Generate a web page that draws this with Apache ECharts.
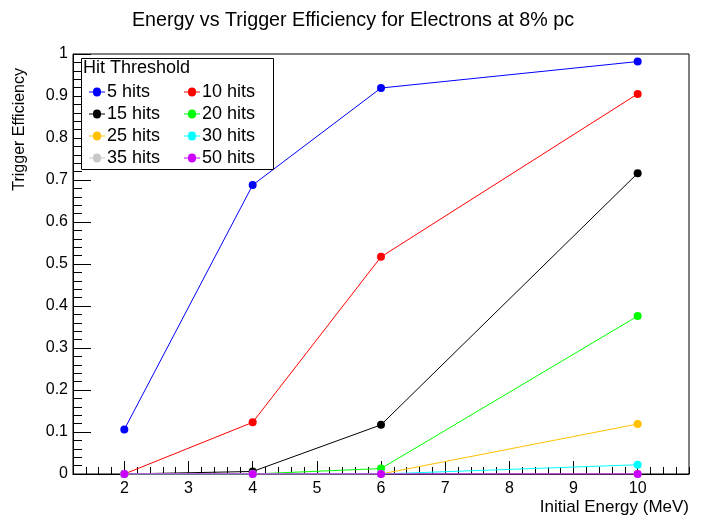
<!DOCTYPE html>
<html>
<head>
<meta charset="utf-8">
<script src="https://cdn.jsdelivr.net/npm/echarts@6/dist/echarts.min.js"></script>
<style>html,body{margin:0;padding:0;background:#fff;}#c{width:706px;height:516px;}</style>
</head>
<body>
<div id="c"></div>
<script>
const energies = [2, 4, 6, 10];
const seriesNames = ['5 hits', '10 hits', '15 hits', '20 hits', '25 hits', '30 hits', '35 hits', '50 hits'];
const hits5  = [0.106, 0.688, 0.919, 0.982];
const hits10 = [0.000, 0.123, 0.517, 0.905];
const hits15 = [0.000, 0.006, 0.117, 0.716];
const hits20 = [0.000, 0.000, 0.013, 0.376];
const hits25 = [0.000, 0.000, 0.000, 0.119];
const hits30 = [0.000, 0.000, 0.000, 0.022];
const hits35 = [0.000, 0.000, 0.000, 0.000];
const hits50 = [0.000, 0.000, 0.000, 0.000];
const allValues = [hits5, hits10, hits15, hits20, hits25, hits30, hits35, hits50];
const colors = ['#0000ff', '#ff0000', '#000000', '#00ff00', '#ffc000', '#00ffff', '#c8c8c8', '#cc00ff'];
const xTicks = [2, 3, 4, 5, 6, 7, 8, 9, 10];
const yTicks = ['0', '0.1', '0.2', '0.3', '0.4', '0.5', '0.6', '0.7', '0.8', '0.9', '1'];

const X_MIN = 1.2, X_MAX = 10.8;
const xMinor = [];
for (let k = 6; k <= 54; k++) xMinor.push(+(k * 0.2).toFixed(1));

const FONT = '"Liberation Sans", Arial, sans-serif';
const chart = echarts.init(document.getElementById('c'), null, {renderer: 'canvas'});

const series = seriesNames.map((n, i) => ({
  name: n,
  type: 'line',
  xAxisIndex: 0,
  data: energies.map((e, j) => [e, allValues[i][j]]),
  symbol: 'circle',
  symbolSize: 8,
  lineStyle: {width: 1, color: colors[i]},
  itemStyle: {color: colors[i]},
  z: 2 + i,
  animation: false
}));

const legendCommon = {
  orient: 'vertical',
  icon: 'path://M0,4 L4,4 A4,4 0 1 1 12,4 L16,4 L16,5 L12,5 A4,4 0 1 1 4,5 L0,5 Z',
  itemWidth: 16,
  itemHeight: 9,
  itemGap: 4,
  z: 60,
  textStyle: {fontFamily: FONT, fontSize: 18, color: '#000', padding: [0, 0, 0, -3]},
  selectedMode: false
};

chart.setOption({
  animation: false,
  title: {
    text: 'Energy vs Trigger Efficiency for Electrons at 8% pc',
    left: 'center',
    top: 6,
    textStyle: {fontFamily: FONT, fontSize: 19.7, fontWeight: 'normal', color: '#000'}
  },
  grid: {left: 73, right: 17, top: 54, bottom: 42, show: true, borderColor: '#000', borderWidth: 1, backgroundColor: 'transparent'},
  legend: [
    Object.assign({}, legendCommon, {left: 84, top: 78, data: ['5 hits', '15 hits', '25 hits', '35 hits']}),
    Object.assign({}, legendCommon, {left: 179, top: 78, data: ['10 hits', '20 hits', '30 hits', '50 hits']})
  ],
  xAxis: [{
    type: 'value', min: X_MIN, max: X_MAX,
    axisLine: {lineStyle: {color: '#000', width: 1}},
    axisTick: {inside: true, length: 13, customValues: xTicks, lineStyle: {color: '#000'}},
    splitLine: {show: false},
    axisLabel: {fontFamily: FONT, fontSize: 16, color: '#000', margin: 7, customValues: xTicks}
  }, {
    type: 'value', min: X_MIN, max: X_MAX, position: 'bottom',
    axisLine: {show: false},
    axisTick: {inside: true, length: 7, customValues: xMinor, lineStyle: {color: '#000'}},
    splitLine: {show: false},
    axisLabel: {show: false}
  }],
  yAxis: {
    type: 'value', min: 0, max: 1, interval: 0.1,
    axisLine: {lineStyle: {color: '#000', width: 1}},
    axisTick: {inside: true, length: 18, lineStyle: {color: '#000'}},
    minorTick: {show: true, splitNumber: 5, length: 9, lineStyle: {color: '#000'}},
    splitLine: {show: false},
    axisLabel: {fontFamily: FONT, fontSize: 16, color: '#000', margin: 5,
      formatter: v => yTicks[Math.round(v * 10)]}
  },
  graphic: [
    {type: 'rect', left: 81, top: 58, shape: {width: 192, height: 111},
      style: {fill: '#fff', stroke: '#000', lineWidth: 1}, z: 55},
    {type: 'text', left: 83, top: 59, style: {text: 'Hit Threshold', font: '18px ' + FONT, fill: '#000'}, z: 56},
    {type: 'text', left: 12, top: 68, rotation: Math.PI / 2,
      style: {text: 'Trigger Efficiency', font: '16px ' + FONT, fill: '#000'}, z: 56},
    {type: 'text', right: 17, top: 499,
      style: {text: 'Initial Energy (MeV)', font: '17px ' + FONT, fill: '#000'}, z: 56}
  ],
  series: series
});
</script>
</body>
</html>
